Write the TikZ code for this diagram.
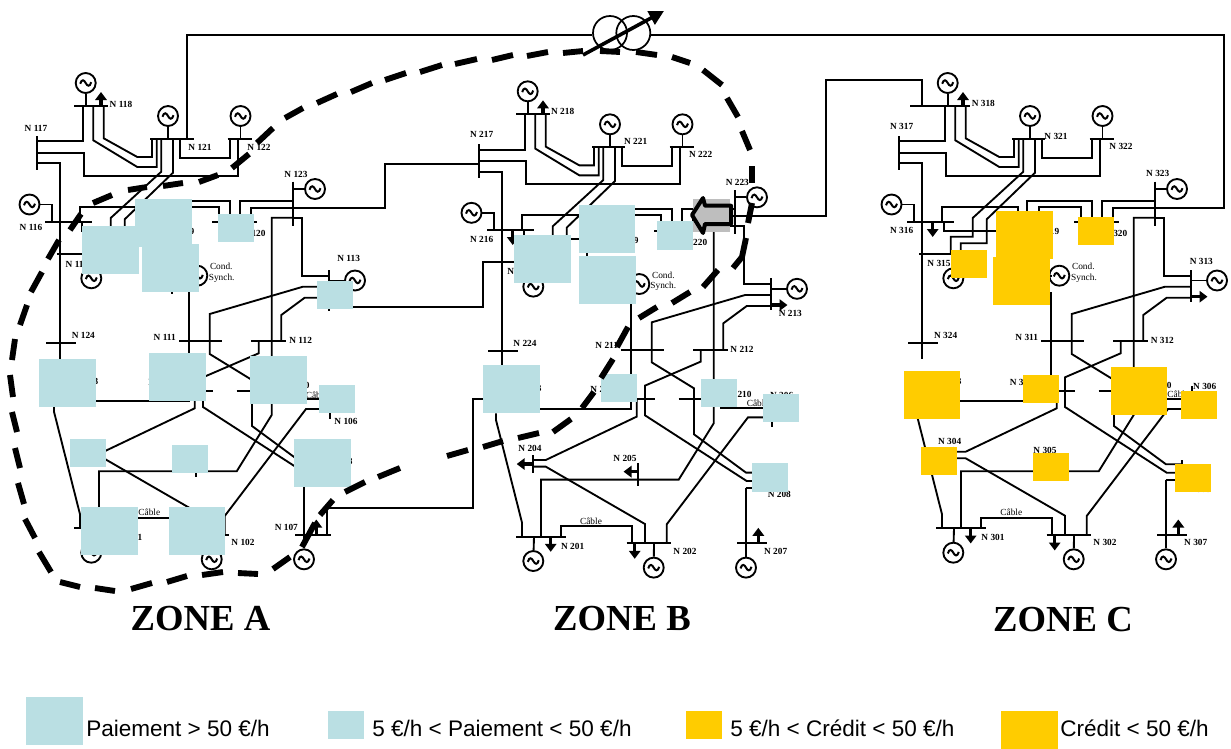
\documentclass[tikz,border=0pt]{standalone}
\usepackage{fontspec}
\setmainfont{Liberation Serif}
\newfontfamily\legendfont{Liberation Sans}
\usetikzlibrary{arrows.meta}
\definecolor{paycol}{HTML}{BADFE3}
\definecolor{credcol}{HTML}{FFCC00}
\definecolor{flowgray}{HTML}{BEBEBE}
\newcount\labn
\newcount\gn
\tikzset{
  wire/.style={line width=1.4pt,line join=miter},
  busbar/.style={line width=1.6pt},
  gencirc/.style={circle,draw,line width=1.4pt,fill=white,minimum size=15pt,inner sep=0pt},
  tildeline/.style={line width=1.5pt},
  loadup/.style={line width=2.6pt,-{Triangle[width=8.5pt,length=6pt]}},
  busl/.style={inner sep=0pt,font=\fontsize{7}{8}\selectfont\bfseries},
  cablel/.style={inner sep=0pt,font=\fontsize{7}{8}\selectfont},
  zonel/.style={inner sep=0pt,font=\fontsize{27.5}{30}\selectfont\bfseries},
  legendl/.style={inner sep=0pt,anchor=west,font=\legendfont\fontsize{16.9}{20}\selectfont},
  cut/.style={line width=4.4pt},
}
\newcommand{\gensym}[7]{% zone, id, x, y, bus x, bus y, path op
  \node[gencirc] (g#1#2) at (#3,#4) {};
  \draw[tildeline,shift={(#3,#4)}] (-5.5,0.8) .. controls (-4,-4.5) and (-1.5,-3) .. (0,0) .. controls (1.5,3) and (4,4.5) .. (5.5,-0.8);
  \coordinate (b#1#2) at (#5,#6);
  \draw[wire] (g#1#2) #7 (b#1#2);
}
\newcommand{\lab}[3]{\global\advance\labn by 1 \node[busl] (lab\the\labn) at (#1,#2) {#3};}
\newcommand{\labc}[3]{\global\advance\labn by 1 \node[cablel] (lab\the\labn) at (#1,#2) {#3};}
\newcommand{\sq}[5]{\fill[#1] (#2,#3) rectangle (#4,#5);}
\newcommand{\zonenet}[3]{%
\begin{scope}[shift={(#2,#3)}]
 % buses
 \draw[busbar] (74,106)--(108,106);
 \draw[busbar] (150,139)--(183,139);
 \draw[busbar] (227.7,139)--(252,139);
 \draw[busbar] (36.7,136)--(36.7,170);
 \draw[busbar] (292.7,181.7)--(292.7,225.7);
 \draw[busbar] (45,222)--(91.7,222);
 \draw[busbar] (57,253.7)--(100,253.7);
 \draw[busbar] (212,222.3)--(256.7,222.3);
 \draw[busbar] (329.3,270)--(329.3,302);
 \draw[busbar] (46,342.7)--(76,342.7);
 \draw[busbar] (179.3,341.3)--(221.7,341.3);
 \draw[busbar] (251.3,341.3)--(285.7,341.3);
 \draw[busbar] (183,390.7)--(212.5,390.7);
 \draw[busbar] (236.7,390.7)--(292,390.7);
 \draw[busbar] (330.3,386)--(330.3,419);
 \draw[busbar] (320,460)--(320,484);
 \draw[busbar] (90.7,446.7)--(90.7,464.3);
 \draw[busbar] (196.3,455)--(196.3,477.3);
 \draw[busbar] (74,528.3)--(124,528.3);
 \draw[busbar] (184.7,535)--(228.7,535);
 \draw[busbar] (295,535)--(325,535);
 % lines
 \draw[wire] (36.7,141.3)--(82.7,141.3)--(82.7,106);
 \draw[wire] (36.7,152.7)--(84.3,152.7)--(84.3,175.7)--(238.3,175.7)--(238.3,139);
 \draw[wire] (36.7,163.3)--(60,163.3)--(60,359);
 \draw[wire] (93.3,106)--(93.3,140.3)--(137.3,167)--(156.7,167)--(156.7,139);
 \draw[wire] (103.7,106)--(103.7,138.3)--(137.3,157)--(152,157)--(152,139);
 \draw[wire] (161.3,139)--(161.3,171.7)--(110.7,218)--(110.7,236.7)--(88.7,236.7)--(88.7,253.7);
 \draw[wire] (173,139)--(173,172.7)--(124.7,219.3)--(124.7,243.3)--(98.7,243.3)--(98.7,253.7);
 \draw[wire] (180.3,139)--(180.3,157.7)--(230,157.7)--(230,139);
 \draw[wire] (79.7,222)--(79.7,206.7)--(156.3,206.7)--(156.3,225);
 \draw[wire] (82.3,222)--(82.3,230.7)--(145,230.7);
 \draw[wire] (292.7,201)--(240,201)--(240,222.3);
 \draw[wire] (165.3,211)--(165.3,201)--(229.7,201)--(229.7,222.3);
 \draw[wire] (176.7,211)--(176.7,206.7)--(218.7,206.7)--(218.7,222.3);
 \draw[wire] (292.7,208)--(250.7,208)--(250.7,222.3);
 \draw[wire] (292.7,217.7)--(271.7,217.7)--(271.7,415)--(236.7,471.3)--(99,471.3)--(99,528.3);
 \draw[wire] (292.7,217.7)--(302.3,217.7)--(302.3,276)--(329.3,276);
 \draw[wire] (329.3,286.7)--(303,286.7)--(209.7,314)--(209.7,354)--(252,380)--(252,426)--(304,464.3)--(320,464.3);
 \draw[wire] (329.3,297.7)--(304.7,297.7)--(281.3,315)--(281.3,341.3);
 \draw[wire] (188.7,292)--(188.7,401)--(60,401);
 \draw[wire] (54,405)--(54,411.7)--(80,514.3)--(80,528.3);
 \draw[wire] (258.7,341.3)--(258.7,353.3)--(203,377.3)--(203,407)--(304.7,472.7)--(320,472.7);
 \draw[wire] (194.7,390.7)--(194.7,408.3)--(103.7,451.7)--(90.7,451.7);
 \draw[wire] (90.7,458.3)--(103.7,458.3)--(203,515.7)--(203,535);
 \draw[wire] (278,399.3)--(330.3,399.3);
 \draw[wire] (330.3,409)--(306,409)--(224.7,516)--(224.7,535);
 \draw[wire] (118.7,528.3)--(118.7,517.7)--(190.3,517.7)--(190.3,535);
 \draw[wire] (303.7,480)--(320,480);
 \draw[wire] (303.7,480)--(303.7,535);
 % loads
 \draw[loadup] (101,106)--(101,92);
 \draw[loadup] (329.3,296.7)--(345.5,296.7);
 \draw[loadup] (90.7,455.7)--(74.7,455.7);
 \draw[loadup] (196.3,463.3)--(181.5,463.3);
 \draw[loadup] (108.7,528.3)--(108.7,543.5);
 \draw[loadup] (192.7,535)--(192.7,550.5);
 \draw[loadup] (316.3,535)--(316.3,519.5);
 % generators
 \gensym{#1}{18}{85.7}{83}{85.7}{106}{--}
 \gensym{#1}{21}{168}{116}{168}{139}{--}
 \gensym{#1}{22}{240.5}{116}{240.5}{139}{--}
 \gensym{#1}{23}{315}{189}{292.7}{189}{--}
 \gensym{#1}{16}{29.5}{204.5}{51.7}{222}{-|}
 \gensym{#1}{15}{91.3}{278.3}{91.3}{253.7}{--}
 \gensym{#1}{14}{197.3}{275.7}{190}{275.7}{--}
 \gensym{#1}{13}{355}{280.5}{329.3}{280.5}{--}
 \gensym{#1}{01}{91.3}{552.7}{92}{528.3}{--}
 \gensym{#1}{02}{211.7}{559.3}{212}{535}{--}
 \gensym{#1}{07}{304}{559.3}{304}{535}{--}
\end{scope}}
\begin{document}
\begin{tikzpicture}[x=0.75pt,y=-0.75pt]
\useasboundingbox (0,0) rectangle (1231,749);
\zonenet{A}{0}{0}
\zonenet{B}{442}{8.33}
\zonenet{C}{862}{0}
% zone-specific lines
\node[circle,draw,line width=1.3pt,minimum size=25.5pt,inner sep=0pt] (tra) at (610,33) {};
\node[circle,draw,line width=1.3pt,minimum size=25.5pt,inner sep=0pt] (trb) at (633.3,33) {};
\draw[wire] (183,139)--(194,139);
\draw[wire] (187,139)--(187,35)--(tra.west |- 0,35);
\draw[wire] (trb.east |- 0,35)--(1224,35)--(1224,208)--(1154.7,208);
\draw[wire] (292.7,208)--(385,208)--(385,164)--(479,164);
\draw[wire] (734.7,216.3)--(826,216.3)--(826,80)--(921.7,80)--(921.7,106);
\draw[busbar] (910,106)--(938,106);
\draw[busbar] (329.3,300)--(329.3,311);
\draw[wire] (329.3,306.7)--(482.7,306.7)--(482.7,262)--(499,262);
\draw[wire] (327.3,535)--(327.3,508.3)--(472.7,508.3)--(472.7,399.3)--(483,399.3);
\draw[busbar] (325,535)--(331,535);
\draw[wire] (172,288)--(172,293.5);
\draw[wire] (586.7,253)--(586.7,255.5);
\draw[loadup] (512.7,230.3)--(512.7,245);
\draw[loadup] (932.7,222)--(932.7,237);
% labels zone A
\lab{36}{128}{N 117}\lab{121}{104}{N 118}\lab{200}{147}{N 121}\lab{259}{147}{N 122}
\lab{296}{174}{N 123}\lab{31}{227}{N 116}\lab{77}{264}{N 115}\lab{183}{231.7}{N 119}
\lab{254}{233.7}{N 120}\lab{348.7}{258.7}{N 113}\lab{83.3}{335.7}{N 124}\lab{164.7}{337.7}{N 111}
\lab{300.7}{340.7}{N 112}\lab{86.7}{381}{N 103}\lab{160}{382.7}{N 109}\lab{298.3}{385.7}{N 110}
\lab{346}{421}{N 106}\lab{341}{461.7}{N 108}\lab{286.3}{527.7}{N 107}\lab{130.7}{537.7}{N 101}
\lab{243}{542.7}{N 102}
\labc{221.3}{266.7}{Cond.}\labc{221.7}{278.3}{Synch.}\labc{316.7}{395.3}{Câble}\labc{149.3}{512.7}{Câble}
% labels zone B
\lab{481.7}{134}{N 217}\lab{562.7}{111.7}{N 218}\lab{635.7}{141.7}{N 221}\lab{700.7}{154.7}{N 222}
\lab{737.3}{182}{N 223}\lab{481.7}{239}{N 216}\lab{519}{271.7}{N 215}\lab{627}{240.3}{N 219}
\lab{695.7}{242}{N 220}\lab{790.3}{313.7}{N 213}\lab{525}{343.7}{N 224}\lab{606.7}{345.7}{N 211}
\lab{742}{349.7}{N 212}\lab{530}{388.3}{N 203}\lab{602}{389}{N 209}\lab{740}{394}{N 210}
\lab{781.7}{395}{N 206}\lab{530}{448.7}{N 204}\lab{625}{458.7}{N 205}\lab{779.3}{494.7}{N 208}
\lab{572.7}{546.7}{N 201}\lab{685}{551.7}{N 202}\lab{775.7}{551.7}{N 207}
\labc{663.3}{275}{Cond.}\labc{663.3}{286}{Synch.}\labc{757.7}{403}{Câble}\labc{591}{521}{Câble}
% labels zone C
\lab{901.7}{126}{N 317}\lab{983.3}{103.7}{N 318}\lab{1056}{136.7}{N 321}\lab{1121}{146.7}{N 322}
\lab{1157.7}{173.7}{N 323}\lab{901.7}{230.7}{N 316}\lab{939}{263.7}{N 315}\lab{1047.7}{231.7}{N 319}
\lab{1115.7}{233.7}{N 320}\lab{1201.3}{261.7}{N 313}\lab{945.7}{335.7}{N 324}\lab{1026.7}{337.7}{N 311}
\lab{1162.3}{340.7}{N 312}\lab{950}{381}{N 303}\lab{1021.3}{382.7}{N 309}\lab{1160}{385.7}{N 310}
\lab{1204.7}{386.7}{N 306}\lab{949.7}{441.7}{N 304}\lab{1045}{450.7}{N 305}\lab{1199}{489}{N 308}
\lab{993}{537.7}{N 301}\lab{1105}{542.7}{N 302}\lab{1195.7}{542.7}{N 307}
\labc{1083.3}{266.7}{Cond.}\labc{1084}{278.3}{Synch.}\labc{1178.3}{394.7}{Câble}\labc{1011.3}{512.7}{Câble}
% payment squares
\sq{paycol}{81.7}{226}{139}{273.7}\sq{paycol}{135}{199}{192}{246.7}\sq{paycol}{142}{244}{199}{291.7}
\sq{paycol}{218}{214}{254}{242}\sq{paycol}{317}{281}{353}{309}\sq{paycol}{39}{359}{96}{407}
\sq{paycol}{149}{353}{206}{401}\sq{paycol}{250}{356}{307}{404}\sq{paycol}{319}{385}{355}{413}
\sq{paycol}{70}{439}{106}{467}\sq{paycol}{172}{445}{208}{473}\sq{paycol}{294}{439}{351}{487}
\sq{paycol}{81}{507}{138}{555}\sq{paycol}{169}{507}{225}{555}
\sq{paycol}{514}{235}{571}{283}\sq{paycol}{579}{205}{635}{253}\sq{paycol}{579}{256}{636}{304}
\sq{paycol}{657}{221}{693}{249.7}\sq{paycol}{483}{365}{540}{413}\sq{paycol}{601}{374}{637}{402}
\sq{paycol}{701}{379}{737}{407}\sq{paycol}{763}{394}{799}{422}\sq{paycol}{752}{463}{788}{491.7}
% credit squares
\sq{credcol}{1078}{217}{1114}{245}\sq{credcol}{951}{250}{987}{278}\sq{credcol}{996}{211}{1053}{259}
\sq{credcol}{993}{257}{1050}{305}\sq{credcol}{904}{371}{960}{419}\sq{credcol}{1023}{375}{1059}{403}
\sq{credcol}{1111}{367}{1167}{415}\sq{credcol}{1181}{391}{1217}{419}\sq{credcol}{921}{447}{957}{475}
\sq{credcol}{1033}{453}{1069}{481}\sq{credcol}{1175}{464}{1211}{492}
% flow arrow on N 223 - N 220
\fill[flowgray] (693,199) rectangle (730,232);
\draw[line width=3pt,fill=flowgray,line join=round] (692,215)--(703,198)--(705,205.7)--(731,205.7)--(731,224)--(705,224)--(703,233)--cycle;
% transformer arrow
\draw[line width=2.7pt,-{Triangle[width=11pt,length=11pt]}] (583,55)--(664,11);
% zone boundary
\foreach \a/\b/\c/\d in {70/230/81/214,93/203/112/195,128/190/147/187,163/186/183/183,199/182/218/175,232/168/249/154,
 257/143/273/128,285/118/303/108,317/103/337/94,351/92/372/83,385/80/406/73,420/72/442/65,455/64/477/59,492/60/513/55,
 527/56/548/52,563/53/583/51,600/51/620/52,636/52/657/55,672/57/690/63,703/70/722/85,727/98/738/117,742/131/750/150,
 752/166/752/183,752/203/748/223,628/327/617/347,718/270/703/287,690/292/672/303,657/307/639/318,613/359/601/378,
 594/392/582/408,571/419/553/432,539/433/518/438,503/441/483/447,468/450/447/456,400/468/378/477,365/482/345/492,
 333/500/320/515,315/523/302/547,290/557/273/569,258/574/238/573,223/572/202/575,187/576/167/582,152/583/131/589,
 115/591/95/588,80/587/60/582,51/572/39/552,35/538/25/519,24/504/18/483,20/468/15/448,17/432/12/412,13/397/10/375,
 12/360/15/339,20/325/27/305,31/292/42/272,48/259/59/240}
 {\draw[cut] (\a,\b)--(\c,\d);}
\draw[cut] (746,238)--(742,257)--(733,268);
% zone titles
\node[zonel] (zoneA) at (200.5,619) {ZONE A};
\node[zonel] (zoneB) at (622,619) {ZONE B};
\node[zonel] (zoneC) at (1063,620) {ZONE C};
% legend
\sq{paycol}{26}{697}{83}{745}
\sq{paycol}{328}{711}{364}{739}
\sq{credcol}{686}{711}{722}{739}
\sq{credcol}{1001}{711}{1058}{749}
\node[legendl] (leg1) at (86,728) {Paiement > 50 €/h};
\node[legendl] (leg2) at (372,728) {5 €/h < Paiement < 50 €/h};
\node[legendl] (leg3) at (730,728) {5 €/h < Crédit < 50 €/h};
\node[legendl] (leg4) at (1060,728) {Crédit < 50 €/h};
\end{tikzpicture}
\end{document}
